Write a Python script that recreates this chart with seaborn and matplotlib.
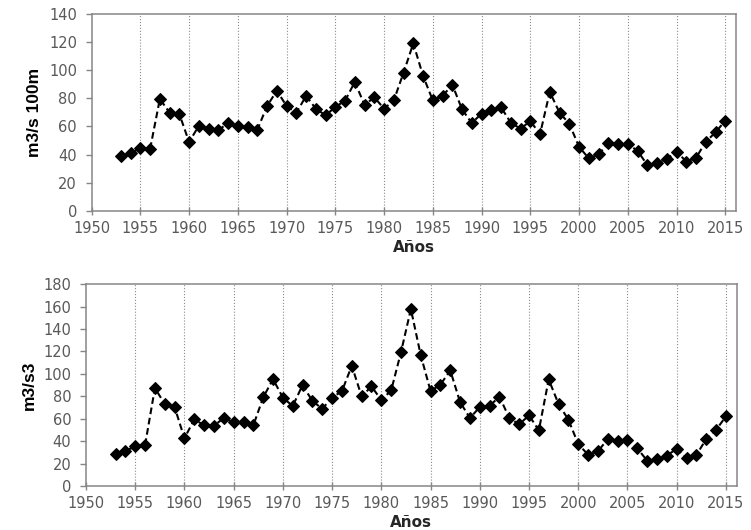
import numpy as np
import pandas as pd
import seaborn as sns
import matplotlib.pyplot as plt

# datos
anios = list(range(1953, 2016))
caudal_100m = [38.7, 40.8, 44.8, 44.1, 79.5, 69.8, 68.8, 48.9, 60.5, 58.4,
               57.4, 62.4, 60.3, 59.8, 57.7, 74.5, 85.4, 74.5, 69.8, 81.6,
               72.6, 67.9, 73.8, 78.3, 91.6, 75.2, 80.7, 72.6, 78.5, 98.2,
               119.0, 95.9, 78.5, 81.6, 89.7, 72.1, 62.4, 69.1, 71.4, 73.6,
               62.6, 58.4, 63.8, 54.6, 84.5, 69.8, 61.9, 45.6, 37.3, 40.1,
               48.2, 47.2, 47.5, 42.7, 32.7, 33.7, 36.8, 42.2, 35.1, 37.7,
               49.1, 55.8, 64.1]
caudal_s3 = [28.5, 31.2, 35.3, 36.5, 87.3, 73.1, 70.4, 42.5, 59.4, 54.1,
             53.8, 60.6, 56.7, 56.7, 54.1, 79.0, 95.3, 78.7, 71.3, 90.0,
             75.7, 68.9, 78.7, 84.6, 107.2, 79.9, 88.8, 76.6, 85.2, 119.4,
             157.7, 116.7, 84.6, 90.3, 103.1, 74.8, 60.6, 70.4, 71.6, 79.6,
             60.6, 54.9, 63.0, 49.6, 95.0, 73.1, 59.1, 37.4, 27.9, 30.9,
             41.9, 40.1, 40.7, 33.6, 22.6, 23.8, 27.0, 33.3, 24.7, 27.6,
             41.9, 49.9, 62.1]
xticks = list(range(1950, 2016, 5))

df = pd.DataFrame({'Año': anios, 'm100': caudal_100m, 's3': caudal_s3})

sns.set_style('white')
plt.rcParams['font.family'] = ['DejaVu Sans']

fig = plt.figure(figsize=(7.51, 5.30), dpi=100)
ax1 = fig.add_axes([0.122, 0.602, 0.858, 0.372])
ax2 = fig.add_axes([0.1145, 0.083, 0.8665, 0.381])

paneles = [
    (ax1, 'm100', 'm3/s 100m', 140),
    (ax2, 's3', 'm3/s3', 180),
]

for ax, col, ylab, ymax in paneles:
    sns.lineplot(data=df, x='Año', y=col, ax=ax, color='black',
                 linestyle='--', linewidth=1.5, marker='D', markersize=6,
                 markeredgecolor='black', dashes=False)
    ax.lines[0].set_dashes((3.2, 1.8))
    ax.set_xlim(1950, 2016.1)
    ax.set_ylim(0, ymax)
    ax.set_xticks(xticks)
    ax.set_yticks(np.arange(0, ymax + 1, 20))
    for x in xticks[1:]:
        ax.axvline(x, color='#8c8c8c', linestyle=':', linewidth=0.8, zorder=0)
    for s in ax.spines.values():
        s.set_color('#868686')
        s.set_linewidth(1.1)
    ax.tick_params(axis='y', direction='out', length=4.5, width=1,
                   color='#868686', labelsize=10.5, labelcolor='#595959',
                   left=True, pad=6)
    ax.tick_params(axis='x', direction='inout', length=6, width=1,
                   color='#868686', labelsize=10.5, labelcolor='#595959',
                   bottom=True, pad=4)
    ax.set_xlabel('Años', fontsize=11, fontweight='bold', color='#262626',
                  labelpad=3)
    ax.set_ylabel(ylab, fontsize=12.5, fontweight='bold', color='black',
                  family=['Liberation Sans Narrow', 'Liberation Sans'],
                  labelpad=5)

fig.savefig('out.png', dpi=100)
